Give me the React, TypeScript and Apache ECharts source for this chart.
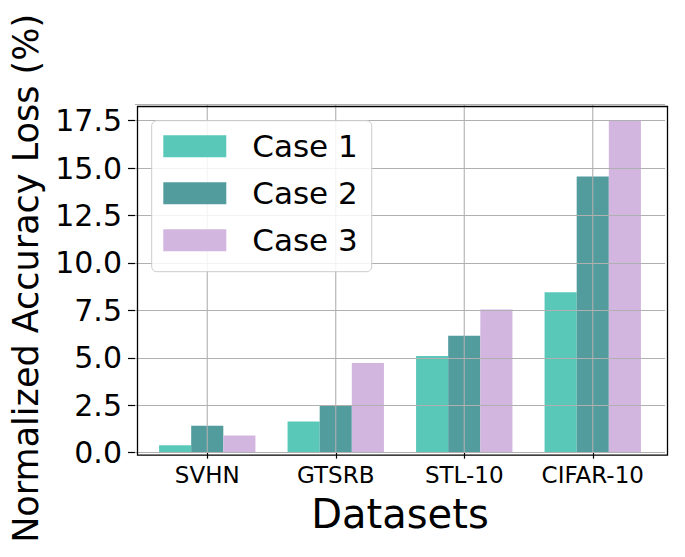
import React, { useEffect, useRef } from "react";
import * as echarts from "echarts";

const categories = ["SVHN", "GTSRB", "STL-10", "CIFAR-10"];
const seriesNames = ["Case 1", "Case 2", "Case 3"];
const case1 = [0.39, 1.65, 5.09, 8.45];
const case2 = [1.42, 2.46, 6.16, 14.56];
const case3 = [0.91, 4.73, 7.54, 17.5];
const colors = ["#5ac8b8", "#529c9e", "#d2b6e0"];
const yTickInterval = 2.5;
const yMax = 18.375;

const FONT = "DejaVu Sans";

export default function App() {
  const ref = useRef<HTMLDivElement>(null);
  useEffect(() => {
    document.body.style.margin = "0";
    const chart = echarts.init(ref.current!, null, { renderer: "svg" });
    const values = [case1, case2, case3];
    const option: any = {
      animation: false,
      backgroundColor: "#ffffff",
      textStyle: { fontFamily: FONT },
      grid: [
        { left: 143, right: 28, top: 104, bottom: 104.3 },
        { left: 135, right: 20, top: 104, bottom: 104.3 },
      ],
      legend: {
        orient: "vertical",
        left: 151.7,
        top: 120.7,
        data: seriesNames,
        icon: "rect",
        itemWidth: 63,
        itemHeight: 22,
        itemGap: 16,
        padding: [10, 14, 16, 11.6],
        backgroundColor: "rgba(255,255,255,0.85)",
        borderColor: "#cccccc",
        borderWidth: 1,
        borderRadius: 5,
        z: 20,
        textStyle: {
          fontFamily: FONT,
          fontSize: 31,
          color: "#000",
          padding: [0, 0, 0, 21],
        },
      },
      xAxis: [
        {
          type: "category",
          gridIndex: 0,
          data: categories,
          axisLine: { show: false },
          axisTick: {
            show: true,
            alignWithLabel: true,
            length: 6,
            lineStyle: { color: "#000", width: 1.2 },
          },
          axisLabel: {
            fontFamily: FONT,
            fontSize: 23,
            color: "#000",
            margin: 11,
            interval: 0,
          },
          splitLine: { show: false },
          name: "Datasets",
          nameLocation: "middle",
          nameGap: 41,
          nameTextStyle: { fontFamily: FONT, fontSize: 40, color: "#000" },
        },
        {
          type: "value",
          gridIndex: 1,
          min: 0,
          max: 1,
          show: false,
        },
      ],
      yAxis: [
        {
          type: "value",
          gridIndex: 0,
          min: 0,
          max: yMax,
          show: false,
        },
        {
          type: "value",
          gridIndex: 1,
          min: 0,
          max: yMax,
          interval: yTickInterval,
          z: 3,
          axisLine: { show: false },
          axisTick: {
            show: true,
            length: 7,
            lineStyle: { color: "#000", width: 1.2 },
          },
          axisLabel: {
            fontFamily: FONT,
            fontSize: 30,
            color: "#000",
            margin: 13,
            showMaxLabel: false,
            formatter: (v: number) => (v > 17.5 + 1e-9 ? "" : v.toFixed(1)),
          },
          splitLine: { show: true, lineStyle: { color: "#b0b0b0", width: 1.1 } },
          name: "Normalized Accuracy Loss (%)",
          nameLocation: "middle",
          nameRotate: 90,
          nameGap: 92,
          nameTextStyle: { fontFamily: FONT, fontSize: 35, color: "#000" },
        },
      ],
      series: [
        ...seriesNames.map((name, i) => ({
          name,
          type: "bar",
          xAxisIndex: 0,
          yAxisIndex: 0,
          data: values[i],
          barWidth: "25%",
          barGap: "0%",
          itemStyle: { color: colors[i] },
        })),
        {
          type: "custom",
          name: "vgrid",
          xAxisIndex: 0,
          yAxisIndex: 0,
          silent: true,
          z: 4,
          data: categories.map((_, i) => [i]),
          renderItem: (params: any, api: any) => {
            const x = api.value(0);
            const p0 = api.coord([x, 0]);
            const p1 = api.coord([x, yMax]);
            return {
              type: "line",
              shape: { x1: p0[0], y1: p0[1], x2: p1[0], y2: p1[1] },
              style: { stroke: "#b0b0b0", lineWidth: 1.1 },
            };
          },
        },
      ],
      graphic: [
        {
          type: "rect",
          left: 135,
          top: 104,
          z: 100,
          shape: { width: 530, height: 348.7 },
          style: { fill: "none", stroke: "#000", lineWidth: 1.3 },
        },
      ],
    };
    chart.setOption(option);
    return () => chart.dispose();
  }, []);
  return <div ref={ref} style={{ width: 685, height: 557 }} />;
}
